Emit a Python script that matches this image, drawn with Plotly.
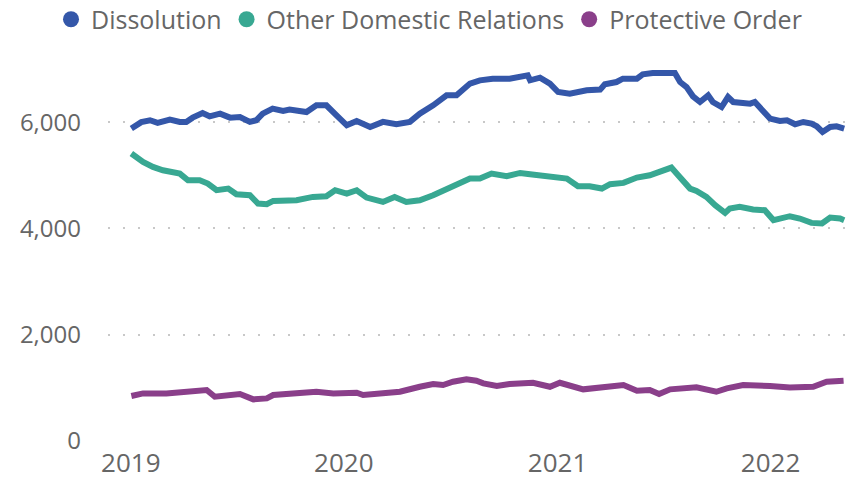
import plotly.graph_objects as go

# ---- data ----
dissolution_dates = [
    "2019-01-02", "2019-01-19", "2019-02-03", "2019-02-16", "2019-03-09", "2019-03-26",
    "2019-04-06", "2019-04-17", "2019-05-04", "2019-05-16", "2019-06-03", "2019-06-20",
    "2019-07-07", "2019-07-24", "2019-08-04", "2019-08-15", "2019-09-01", "2019-09-19",
    "2019-09-30", "2019-10-06", "2019-10-29", "2019-11-15", "2019-12-02", "2019-12-19",
    "2020-01-06", "2020-01-23", "2020-02-15", "2020-03-08", "2020-03-31", "2020-04-23",
    "2020-05-10", "2020-06-02", "2020-06-25", "2020-07-12", "2020-08-04", "2020-08-21",
    "2020-09-12", "2020-10-11", "2020-10-29", "2020-11-11", "2020-11-15", "2020-12-02",
    "2020-12-19", "2021-01-02", "2021-01-22", "2021-02-20", "2021-03-15", "2021-03-23",
    "2021-04-12", "2021-04-23", "2021-05-17", "2021-05-27", "2021-06-13", "2021-07-07",
    "2021-07-21", "2021-07-30", "2021-08-10", "2021-08-21", "2021-09-02", "2021-09-16",
    "2021-09-24", "2021-10-09", "2021-10-20", "2021-10-29", "2021-11-27", "2021-12-05",
    "2021-12-19", "2021-12-31", "2022-01-17", "2022-01-29", "2022-02-12", "2022-02-26",
    "2022-03-12", "2022-03-21", "2022-03-31", "2022-04-13", "2022-04-24", "2022-05-07",
]
dissolution_values = [
    5880, 6000, 6035, 5985, 6050, 6005,
    6005, 6085, 6170, 6110, 6160, 6085,
    6095, 6005, 6035, 6160, 6255, 6210,
    6235, 6223, 6190, 6317, 6317, 6130,
    5940, 6020, 5910, 6005, 5960, 6005,
    6160, 6317, 6505, 6505, 6725, 6787,
    6818, 6818, 6862, 6881, 6787, 6837,
    6725, 6567, 6536, 6599, 6612, 6712,
    6755, 6818, 6818, 6900, 6924, 6924,
    6924, 6755, 6661, 6486, 6379, 6505,
    6379, 6285, 6473, 6379, 6348, 6379,
    6191, 6066, 6022, 6035, 5960, 6003,
    5972, 5922, 5815, 5909, 5922, 5879,
]

other_dates = [
    "2019-01-02", "2019-01-22", "2019-02-08", "2019-02-25", "2019-03-26", "2019-04-09",
    "2019-04-29", "2019-05-13", "2019-05-28", "2019-06-17", "2019-07-01", "2019-07-24",
    "2019-08-07", "2019-08-22", "2019-09-02", "2019-09-30", "2019-10-12", "2019-11-09",
    "2019-12-02", "2019-12-17", "2020-01-06", "2020-01-23", "2020-02-09", "2020-03-08",
    "2020-03-28", "2020-04-17", "2020-05-10", "2020-06-02", "2020-06-25", "2020-07-12",
    "2020-08-04", "2020-08-21", "2020-09-10", "2020-10-06", "2020-10-29", "2020-11-15",
    "2020-12-07", "2021-01-05", "2021-01-17", "2021-02-05", "2021-02-25", "2021-03-18",
    "2021-04-01", "2021-04-24", "2021-05-17", "2021-06-08", "2021-07-07", "2021-07-15",
    "2021-07-24", "2021-08-04", "2021-08-16", "2021-08-27", "2021-09-13", "2021-09-28",
    "2021-10-15", "2021-10-23", "2021-11-09", "2021-12-02", "2021-12-22", "2022-01-06",
    "2022-02-03", "2022-02-20", "2022-03-12", "2022-03-30", "2022-04-13", "2022-04-30",
    "2022-05-07",
]
other_values = [
    5409, 5251, 5157, 5095, 5032, 4907,
    4907, 4845, 4719, 4750, 4644, 4625,
    4469, 4456, 4518, 4544, 4531, 4593,
    4606, 4719, 4656, 4719, 4581, 4499,
    4593, 4499, 4531, 4625, 4750, 4845,
    4939, 4939, 5032, 4982, 5044, 5020,
    5001, 4969, 4939, 4794, 4794, 4750,
    4832, 4857, 4957, 5001, 5095, 5145,
    5032, 4907, 4750, 4706, 4593, 4437,
    4292, 4374, 4405, 4355, 4343, 4155,
    4230, 4186, 4104, 4092, 4205, 4186,
    4155,
]

protective_dates = [
    "2019-01-02", "2019-01-22", "2019-03-03", "2019-04-06", "2019-05-11", "2019-05-25",
    "2019-07-07", "2019-07-30", "2019-08-22", "2019-09-02", "2019-10-06", "2019-11-15",
    "2019-12-14", "2020-01-23", "2020-02-03", "2020-03-08", "2020-04-06", "2020-05-10",
    "2020-06-02", "2020-06-19", "2020-07-06", "2020-07-29", "2020-08-15", "2020-08-27",
    "2020-09-19", "2020-10-11", "2020-11-20", "2020-12-19", "2021-01-05", "2021-02-14",
    "2021-03-20", "2021-04-24", "2021-05-17", "2021-06-08", "2021-06-24", "2021-07-13",
    "2021-08-27", "2021-09-30", "2021-10-18", "2021-11-15", "2021-12-31", "2022-02-03",
    "2022-03-15", "2022-04-07", "2022-05-06",
]
protective_values = [
    846, 896, 896, 927, 959, 833,
    884, 784, 802, 865, 896, 927,
    896, 908, 865, 908, 927, 1021,
    1072, 1053, 1115, 1160, 1134, 1085,
    1034, 1072, 1096, 1021, 1096, 972,
    1021, 1053, 946, 959, 884, 972,
    1009, 927, 991, 1053, 1034, 1009,
    1021, 1115, 1134,
]

series_names = ["Dissolution", "Other Domestic Relations", "Protective Order"]
series_colors = ["#3457A9", "#38A892", "#8A3F8A"]
y_ticks = [0, 2000, 4000, 6000]
x_ticks = ["2019-01-01", "2020-01-01", "2021-01-01", "2022-01-01"]
x_tick_labels = ["2019", "2020", "2021", "2022"]

FONT = "Open Sans, Segoe UI, sans-serif"
GRAY = "#666666"

fig = go.Figure()
all_series = [
    (dissolution_dates, dissolution_values),
    (other_dates, other_values),
    (protective_dates, protective_values),
]
for (xs, ys), name, color in zip(all_series, series_names, series_colors):
    fig.add_trace(go.Scatter(
        x=xs, y=ys, mode="lines", name=name,
        line=dict(color=color, width=6),
        showlegend=False,
    ))
# legend entries shown as filled circles
for name, color in zip(series_names, series_colors):
    fig.add_trace(go.Scatter(
        x=[None], y=[None], mode="markers", name=name,
        marker=dict(color=color, size=19, symbol="circle"),
        showlegend=True,
    ))

fig.update_layout(
    width=854, height=483,
    margin=dict(l=100, r=12, t=61, b=50, autoexpand=False),
    paper_bgcolor="white", plot_bgcolor="white",
    font=dict(family=FONT, color=GRAY, size=25),
    showlegend=True,
    legend=dict(
        orientation="h",
        xref="paper", yref="paper",
        x=-0.0768, y=1.133, xanchor="left", yanchor="middle",
        font=dict(size=25, color=GRAY, family=FONT),
        bgcolor="rgba(0,0,0,0)",
        itemclick=False, itemdoubleclick=False,
        tracegroupgap=0,
    ),
    hovermode=False,
)
fig.update_xaxes(
    range=["2018-11-23", "2022-05-17"],
    tickmode="array", tickvals=x_ticks, ticktext=x_tick_labels,
    showgrid=False, zeroline=False, showline=False, automargin=False,
    ticks="", ticklabelstandoff=4,
    tickfont=dict(size=26, color=GRAY, family=FONT),
)
fig.update_yaxes(
    range=[0, 7000],
    tickmode="array", tickvals=y_ticks,
    tickformat=",d",
    showgrid=True, gridcolor="#C8C8C8", gridwidth=2, griddash="2px,13px",
    zeroline=False, showline=False, automargin=False,
    ticks="", ticklabelstandoff=26,
    tickfont=dict(size=24, color=GRAY, family=FONT),
)

fig.write_html("out.html")
